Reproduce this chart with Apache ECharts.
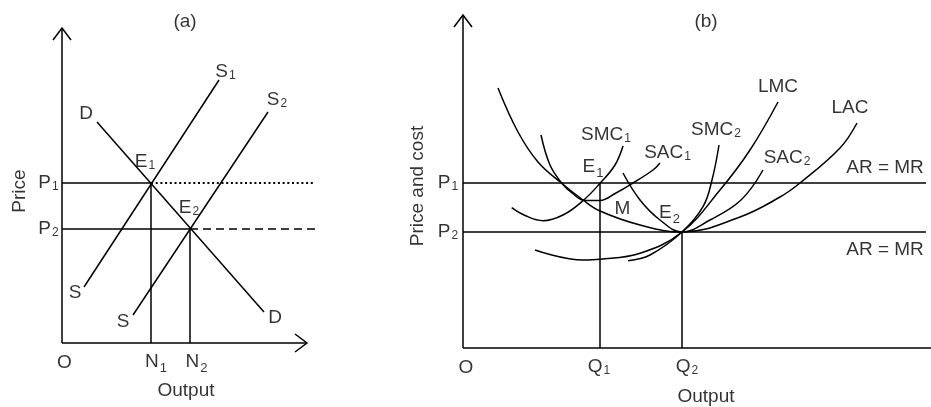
<!DOCTYPE html>
<html><head><meta charset="utf-8">
<script src="https://cdn.jsdelivr.net/npm/echarts@6/dist/echarts.min.js"></script>
<style>html,body{margin:0;padding:0;background:#fff}#c{width:931px;height:407px}</style>
</head><body><div id="c"></div>
<script>
// ---------- Panel (a): market supply & demand (units measured from origin O) ----------
const aAxisY = [[0,0],[0,315]];
const aArrowY = [[-9,303],[0,315],[9,303]];
const aAxisX = [[0,0],[245,0]];
const aArrowX = [[233,9],[245,0],[233,-9]];
const aS1 = [[22,56],[157,263]];
const aS2 = [[71,28],[206,231]];
const aD = [[35,221],[202,31]];
const aP1Solid = [[0,160],[89,160]];
const aP1Dotted = [[89,160],[253,160]];
const aP2Solid = [[0,114],[128,114]];
const aP2Dashed = [[128,114],[253,114]];
const aN1 = [[89,0],[89,160]];
const aN2 = [[128,0],[128,114]];

// ---------- Panel (b): firm cost curves ----------
const bAxisY = [[0,0],[0,333]];
const bArrowY = [[-9,321],[0,333],[9,321]];
const bAxisX = [[0,0],[468,0]];
const bP1 = [[0,165],[463,165]];
const bP2 = [[0,116],[463,116]];
const bQ1 = [[137,0],[137,165]];
const bQ2 = [[219,0],[219,116]];
const bLAC = [[35,260],[55,216],[75,186],[98.7,164.7],[120,148],[137,137],[177,123],[219,116],[277,131],[317,151],[337,165],[377,200],[394,225]];
const bSAC1 = [[78,213],[87,183],[98.7,165],[109,155],[122,147.5],[137,147.5],[153,155],[170,165],[190,178],[197,185]];
const bSMC1 = [[48.7,140.3],[62,132.5],[80,127.3],[100,133],[120,147.3],[137,164.7],[152,183],[160,202]];
const bLMC = [[72,98],[120,88],[137,88.7],[177,94.7],[219,116],[257,158],[287,198],[315,246]];
const bSAC2 = [[160,175],[177,148],[197,128],[219,116],[247,128],[278,148],[300,178]];
const bSMC2 = [[165,87.3],[187,93],[219,116],[240,141.3],[249,168],[256,203]];

// ---------- Labels: [rich text, x, y, rotation] ----------
const aLabels = [
  ['{m|(a)}', 123, 321, 0],
  ['{m|S}{s|1}', 163.5, 271, 0],
  ['{m|S}{s|2}', 215, 243, 0],
  ['{m|D}', 24, 229, 0],
  ['{m|E}{s|1}', 83, 181, 0],
  ['{m|E}{s|2}', 127, 135, 0],
  ['{m|P}{s|1}', -13.5, 160, 0],
  ['{m|P}{s|2}', -13.5, 114, 0],
  ['{m|Price}', -42, 152, 90],
  ['{m|S}', 13, 50, 0],
  ['{m|S}', 61, 21, 0],
  ['{m|D}', 213, 25, 0],
  ['{m|O}', 2.5, -20, 0],
  ['{m|N}{l|1}', 94, -19, 0],
  ['{m|N}{l|2}', 134.5, -19, 0],
  ['{m|Output}', 124, -47.5, 0]
];
const bLabels = [
  ['{m|(b)}', 243, 326, 0],
  ['{m|LMC}', 315, 261, 0],
  ['{m|LAC}', 387, 240, 0],
  ['{m|SMC}{s|1}', 143, 213, 0],
  ['{m|SAC}{s|1}', 204.5, 195, 0],
  ['{m|SMC}{s|2}', 253, 218, 0],
  ['{m|SAC}{s|2}', 324, 190, 0],
  ['{m|E}{l|1}', 130, 181, 0],
  ['{m|M}', 159.5, 139, 0],
  ['{m|E}{l|2}', 206.5, 135, 0],
  ['{m|AR = MR}', 422, 180, 0],
  ['{m|AR = MR}', 422, 98, 0],
  ['{m|P}{s|1}', -15, 165, 0],
  ['{m|P}{s|2}', -15, 116, 0],
  ['{m|O}', 3, -20, 0],
  ['{m|Q}{s|1}', 136, -19, 0],
  ['{m|Q}{s|2}', 224, -19, 0],
  ['{m|Output}', 243, -49, 0],
  ['{m|Price and cost}', -45, 162, 90]
];

const FONT = '"Liberation Sans", Arial, sans-serif';
const rich = {
  m: {fontSize: 19, fontFamily: FONT, color: '#000', lineHeight: 22, verticalAlign: 'middle'},
  s: {fontSize: 12, fontFamily: FONT, color: '#000', lineHeight: 12, padding: [8, 0, 0, 1], verticalAlign: 'middle'},
  l: {fontSize: 13, fontFamily: FONT, color: '#000', lineHeight: 13, padding: [13, 0, 0, 1], verticalAlign: 'middle'}
};

function line(data, g, extra) {
  extra = extra || {};
  return {
    type: 'line', xAxisIndex: g, yAxisIndex: g, data: data,
    symbol: 'none', showSymbol: false, clip: false, silent: true, animation: false,
    smooth: extra.smooth || false,
    lineStyle: {color: '#000', width: extra.width || 1.5, type: extra.type || 'solid', cap: 'butt', join: 'miter'}
  };
}
function labels(list, g) {
  return {
    type: 'scatter', xAxisIndex: g, yAxisIndex: g, silent: true, animation: false,
    symbolSize: 1, itemStyle: {color: 'rgba(0,0,0,0)'}, clip: false, z: 5,
    data: list.map(function (d) {
      return {value: [d[1], d[2]], label: {show: true, position: 'inside', formatter: d[0], rotate: d[3], rich: rich}};
    })
  };
}

const series = [
  line(aAxisY, 0), line(aArrowY, 0), line(aAxisX, 0), line(aArrowX, 0),
  line(aS1, 0), line(aS2, 0), line(aD, 0),
  line(aP1Solid, 0), line(aP1Dotted, 0, {type: [2, 2.7], width: 1.8}),
  line(aP2Solid, 0), line(aP2Dashed, 0, {type: [8, 5]}),
  line(aN1, 0), line(aN2, 0),
  line(bAxisY, 1), line(bArrowY, 1), line(bAxisX, 1),
  line(bP1, 1), line(bP2, 1), line(bQ1, 1), line(bQ2, 1),
  line(bLAC, 1, {smooth: 0.4}), line(bSAC1, 1, {smooth: 0.4}), line(bSMC1, 1, {smooth: 0.4}),
  line(bLMC, 1, {smooth: 0.4}), line(bSAC2, 1, {smooth: 0.4}), line(bSMC2, 1, {smooth: 0.4}),
  labels(aLabels, 0), labels(bLabels, 1)
];

const chart = echarts.init(document.getElementById('c'), null, {renderer: 'canvas'});
chart.setOption({
  animation: false,
  backgroundColor: '#fff',
  grid: [
    {left: 0, top: 0, width: 400, height: 407},
    {left: 400, top: 0, width: 531, height: 407}
  ],
  xAxis: [
    {type: 'value', gridIndex: 0, min: -62, max: 338, show: false},
    {type: 'value', gridIndex: 1, min: -63, max: 468, show: false}
  ],
  yAxis: [
    {type: 'value', gridIndex: 0, min: -64, max: 343, show: false},
    {type: 'value', gridIndex: 1, min: -59, max: 348, show: false}
  ],
  series: series
});
</script></body></html>
